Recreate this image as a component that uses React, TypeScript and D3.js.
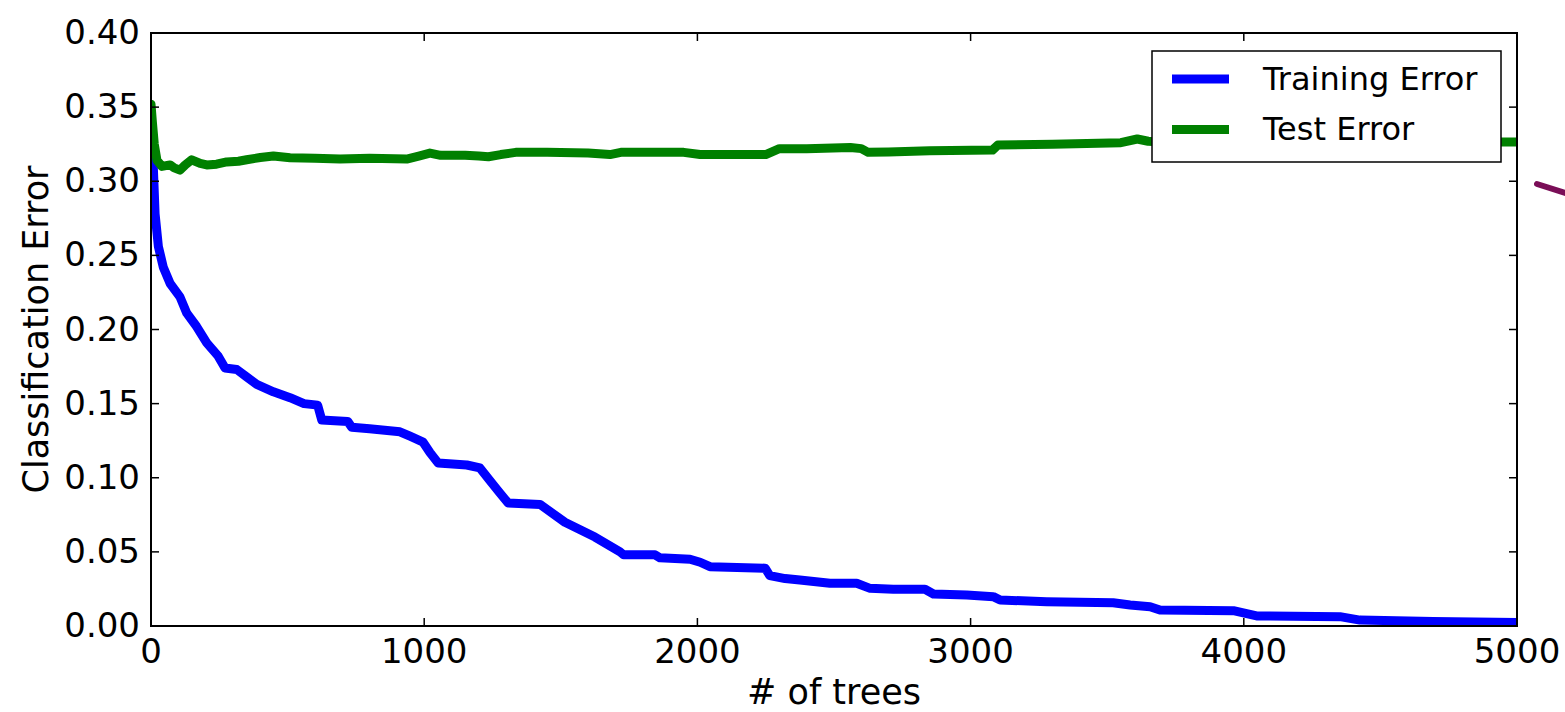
import React from "react";
import * as d3 from "d3";

// Boosting run: classification error against ensemble size.
const xTickValues = [0, 1000, 2000, 3000, 4000, 5000];
const yTickValues = [0, 0.05, 0.1, 0.15, 0.2, 0.25, 0.3, 0.35, 0.4];

const seriesNames = ["Training Error", "Test Error"];
const seriesColors = ["#0000ff", "#008000"];

// [number of trees, error]
const trainingError: [number, number][] = [
  [0, 0.32], [8, 0.312], [15, 0.278], [27, 0.256], [45, 0.242], [70, 0.231],
  [106, 0.222], [131, 0.211], [167, 0.202], [204, 0.191], [246, 0.182],
  [271, 0.174], [314, 0.173], [350, 0.168], [387, 0.163], [448, 0.158],
  [509, 0.154], [560, 0.15], [610, 0.149], [625, 0.139], [720, 0.138],
  [735, 0.134], [800, 0.133], [911, 0.131], [948, 0.128], [996, 0.124],
  [1021, 0.117], [1051, 0.11], [1156, 0.1086], [1204, 0.1066], [1241, 0.098],
  [1277, 0.0897], [1307, 0.083], [1424, 0.082], [1515, 0.07], [1625, 0.06],
  [1717, 0.05], [1730, 0.048], [1845, 0.048], [1863, 0.046], [1973, 0.045],
  [2010, 0.043], [2046, 0.04], [2248, 0.039], [2265, 0.034], [2321, 0.032],
  [2375, 0.031], [2485, 0.0288], [2583, 0.0288], [2632, 0.0254], [2717, 0.0248],
  [2833, 0.0248], [2864, 0.0216], [2986, 0.0209], [3083, 0.0198], [3108, 0.0175],
  [3278, 0.0164], [3522, 0.0157], [3584, 0.0142], [3657, 0.013], [3693, 0.0108],
  [3962, 0.0103], [4047, 0.0068], [4352, 0.0063], [4425, 0.004], [4693, 0.003],
  [5000, 0.0023],
];

const testError: [number, number][] = [
  [0, 0.352], [5, 0.34], [12, 0.325], [22, 0.314], [40, 0.31], [70, 0.311],
  [85, 0.309], [106, 0.3075], [125, 0.311], [149, 0.3145], [180, 0.312],
  [204, 0.311], [240, 0.3115], [277, 0.313], [320, 0.3135], [350, 0.3145],
  [400, 0.316], [448, 0.317], [509, 0.3158], [600, 0.3155], [692, 0.315],
  [800, 0.3155], [936, 0.315], [980, 0.317], [1021, 0.319], [1060, 0.3175],
  [1150, 0.3175], [1200, 0.317], [1235, 0.3165], [1280, 0.318], [1335, 0.3195],
  [1450, 0.3195], [1600, 0.319], [1680, 0.318], [1720, 0.3195], [1850, 0.3195],
  [1950, 0.3195], [2010, 0.318], [2100, 0.318], [2250, 0.318], [2300, 0.322],
  [2400, 0.322], [2560, 0.3228], [2600, 0.322], [2625, 0.3195], [2700, 0.3198],
  [2850, 0.3205], [3080, 0.321], [3100, 0.3245], [3300, 0.325], [3550, 0.326],
  [3610, 0.3285], [3650, 0.327], [3700, 0.3265], [4000, 0.3265], [4500, 0.3265],
  [5000, 0.3265],
];

const WIDTH = 1565;
const HEIGHT = 712;
const FONT = "'DejaVu Sans', 'Bitstream Vera Sans', sans-serif";

export default function App() {
  const left = 151, right = 1517, top = 33, bottom = 626;
  const x = d3.scaleLinear().domain([0, 5000]).range([left, right]);
  const y = d3.scaleLinear().domain([0, 0.4]).range([bottom, top]);

  const line = d3
    .line<[number, number]>()
    .x((d) => x(d[0]))
    .y((d) => y(d[1]));

  const series = [trainingError, testError];
  const tickLen = 8;

  return (
    <svg
      width={WIDTH}
      height={HEIGHT}
      style={{ position: "absolute", left: 0, top: 0, background: "#fff" }}
      fontFamily={FONT}
    >
      <defs>
        <clipPath id="plot-clip">
          <rect x={left} y={top} width={right - left} height={bottom - top} />
        </clipPath>
      </defs>

      <g clipPath="url(#plot-clip)">
        {series.map((s, i) => (
          <path
            key={seriesNames[i]}
            d={line(s) ?? ""}
            fill="none"
            stroke={seriesColors[i]}
            strokeWidth={9}
            strokeLinejoin="round"
            strokeLinecap="round"
          />
        ))}
      </g>

      {/* ticks on all four spines, pointing inward */}
      <g stroke="#000" strokeWidth={1.5}>
        {xTickValues.map((t) => (
          <g key={"xt" + t}>
            <line x1={x(t)} x2={x(t)} y1={bottom} y2={bottom - tickLen} />
            <line x1={x(t)} x2={x(t)} y1={top} y2={top + tickLen} />
          </g>
        ))}
        {yTickValues.map((t) => (
          <g key={"yt" + t}>
            <line x1={left} x2={left + tickLen} y1={y(t)} y2={y(t)} />
            <line x1={right} x2={right - tickLen} y1={y(t)} y2={y(t)} />
          </g>
        ))}
      </g>

      <rect
        x={left}
        y={top}
        width={right - left}
        height={bottom - top}
        fill="none"
        stroke="#000"
        strokeWidth={2}
      />

      <g fontSize={34} fill="#000">
        {xTickValues.map((t) => (
          <text key={"xl" + t} x={x(t)} y={bottom + 37} textAnchor="middle">
            {String(t)}
          </text>
        ))}
        {yTickValues.map((t) => (
          <text key={"yl" + t} x={left - 11} y={y(t) + 11} textAnchor="end">
            {t.toFixed(2)}
          </text>
        ))}
      </g>

      <text x={(left + right) / 2} y={704} textAnchor="middle" fontSize={35}>
        # of trees
      </text>
      <text
        transform={`translate(48, ${(top + bottom) / 2}) rotate(-90)`}
        textAnchor="middle"
        fontSize={35}
      >
        Classification Error
      </text>

      {/* legend */}
      <g>
        <rect x={1152} y={51} width={349} height={111} fill="#fff" stroke="#000" strokeWidth={1.5} />
        {seriesNames.map((name, i) => (
          <g key={name} transform={`translate(0, ${79 + i * 50.5})`}>
            <line x1={1172} x2={1229} y1={0} y2={0} stroke={seriesColors[i]} strokeWidth={9} />
            <text x={1263} y={10.5} fontSize={32}>
              {name}
            </text>
          </g>
        ))}
      </g>

      {/* connector stroke entering from the right */}
      <line x1={1537} y1={184} x2={1600} y2={204} stroke="#7a0e57" strokeWidth={6} strokeLinecap="round" />
    </svg>
  );
}
